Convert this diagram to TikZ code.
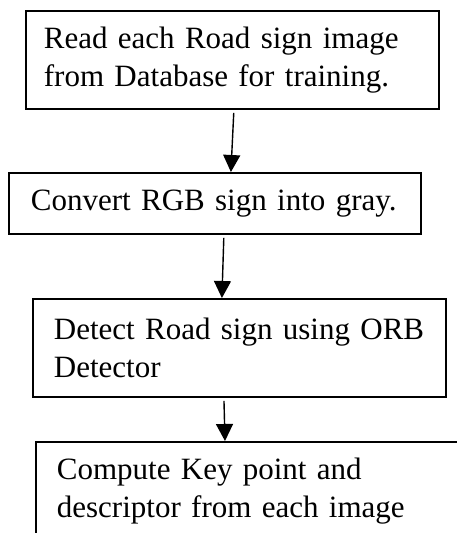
\documentclass[tikz,border=0pt]{standalone}
\usepackage{fontspec}
\setmainfont{Liberation Serif}
\usetikzlibrary{arrows.meta}

\begin{document}
\begin{tikzpicture}[
    x=1pt, y=-1pt,
        box/.style = {draw, line width=1.8pt, anchor=north west, align=left,
                      inner ysep=0pt, font=\fontsize{31}{38}\selectfont},
        flow/.style = {line width=1.4pt, shorten <=3pt},
        arrows=-{Triangle[width=17pt,length=17pt]}
        ]
    \useasboundingbox (0,0) rectangle (456,533);

    % Boxes, top to bottom
    \node[box, text width=377pt, inner xsep=18pt, minimum height=98pt] (read) at (25,10)
        {Read each Road sign image\\from Database for training.};
    \node[box, text width=368pt, inner xsep=22pt, minimum height=61pt] (gray) at (8,172)
        {Convert RGB sign into gray.};
    \node[box, text width=371pt, inner xsep=21pt, minimum height=98pt] (detect) at (32,298)
        {Detect Road sign using ORB\\Detector};
    % last box runs off the page
    \node[box, text width=450pt, inner xsep=21pt, inner ysep=16pt, text depth=60pt] (compute) at (35,441)
        {Compute Key point and\\descriptor from each image};

    % Arrows between the boxes
    \draw[flow] ([xshift=1.5pt]read.south)    -- ([xshift=16pt]gray.north);
    \draw[flow] ([xshift=9pt]gray.south)      -- ([xshift=-17.5pt]detect.north);
    \draw[flow] ([xshift=-15.5pt]detect.south) -- ([xshift=190pt]compute.north west);
\end{tikzpicture}
\end{document}
